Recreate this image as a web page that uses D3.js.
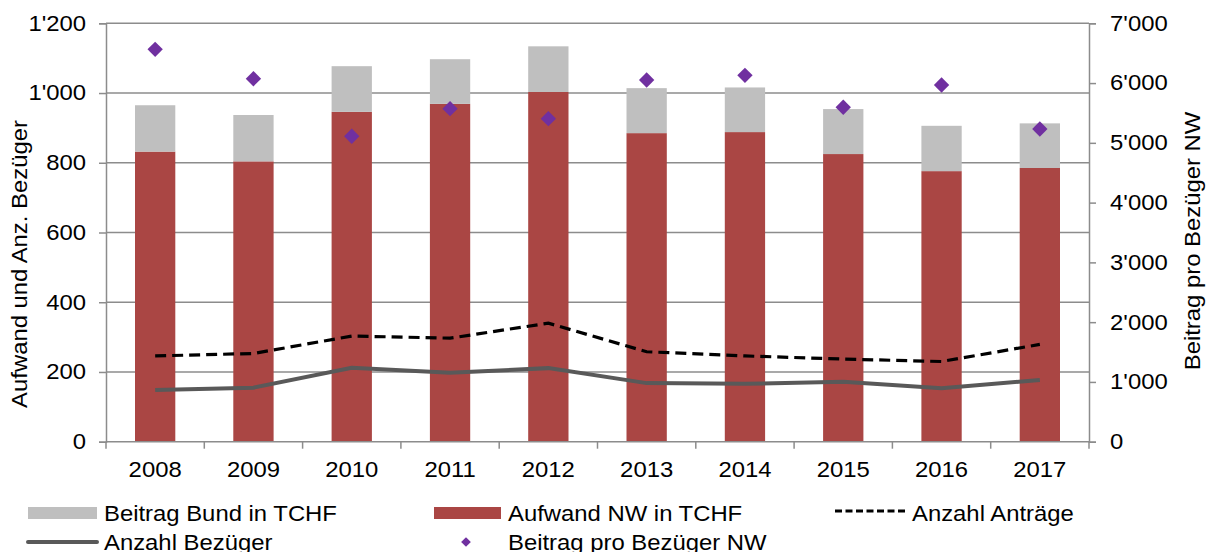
<!DOCTYPE html>
<html>
<head>
<meta charset="utf-8">
<script src="https://cdn.jsdelivr.net/npm/d3@7"></script>
<style>
  body { margin: 0; background: #fff; }
  text { font-family: "Liberation Sans", Arial, sans-serif; fill: #000; }
</style>
</head>
<body>
<svg id="chart" width="1209" height="552"></svg>
<script>
// data
var years = ["2008", "2009", "2010", "2011", "2012", "2013", "2014", "2015", "2016", "2017"];
var aufwandNW = [832, 804, 946, 969, 1003, 885, 888, 825, 776, 785];
var beitragBund = [133, 133, 131, 128, 131, 129, 128, 129, 130, 128];
var anzahlAntraege = [246, 253, 303, 297, 340, 258, 246, 237, 230, 279];
var anzahlBezueger = [148, 155, 212, 198, 211, 168, 166, 172, 153, 177];
var beitragProBezueger = [6565, 6073, 5110, 5572, 5404, 6052, 6130, 5595, 5968, 5232];
var leftTicks = [0, 200, 400, 600, 800, 1000, 1200];
var rightTicks = [0, 1000, 2000, 3000, 4000, 5000, 6000, 7000];

var svg = d3.select("#chart");
var pLeft = 106, pRight = 1089, pTop = 23.3, pBottom = 441.7;
var fontSize = 21.5;
var stretch = 1.11; // the source text is a bit wider than plain Arial
var gridColor = "#8c8c8c";

var x = d3.scaleBand().domain(years).range([pLeft, pRight]).paddingInner(0.59).paddingOuter(0.295);
var xBoundary = d3.scaleBand().domain(years).range([pLeft, pRight]);
var y = d3.scaleLinear().domain([0, 1200]).range([pBottom, pTop]);
var y2 = d3.scaleLinear().domain([0, 7000]).range([pBottom, pTop]);

var fmt = function (v) { return d3.format(",")(v).replace(/,/g, "'"); };

// text helper, stretched horizontally
function stext(parent, tx, ty, str, anchor, rot) {
    var t = "translate(" + tx + "," + ty + ")" + (rot ? " rotate(" + rot + ")" : "") + " scale(" + stretch + ",1)";
    return parent.append("text")
        .attr("transform", t)
        .attr("text-anchor", anchor || "start")
        .attr("font-size", fontSize)
        .text(str);
}

// gridlines
svg.append("g").selectAll("line").data(leftTicks.slice(1)).enter().append("line")
  .attr("x1", pLeft).attr("x2", pRight)
  .attr("y1", function (d) { return y(d); }).attr("y2", function (d) { return y(d); })
  .attr("stroke", gridColor).attr("stroke-width", 1.5);

// stacked bars
var bars = svg.append("g");
bars.selectAll("rect.nw").data(years).enter().append("rect")
  .attr("class", "nw")
  .attr("x", function (d) { return x(d); })
  .attr("width", x.bandwidth())
  .attr("y", function (d, i) { return y(aufwandNW[i]); })
  .attr("height", function (d, i) { return y(0) - y(aufwandNW[i]); })
  .attr("fill", "#aa4644");
bars.selectAll("rect.bund").data(years).enter().append("rect")
  .attr("class", "bund")
  .attr("x", function (d) { return x(d); })
  .attr("width", x.bandwidth())
  .attr("y", function (d, i) { return y(aufwandNW[i] + beitragBund[i]); })
  .attr("height", function (d, i) { return y(aufwandNW[i]) - y(aufwandNW[i] + beitragBund[i]); })
  .attr("fill", "#bfbfbf");

// left axis
var yAxis = d3.axisLeft(y).tickValues(leftTicks).tickFormat(fmt).tickSize(7).tickPadding(11);
var gy = svg.append("g").attr("transform", "translate(" + pLeft + ",0)").call(yAxis);
gy.select(".domain").attr("stroke", gridColor).attr("stroke-width", 1.5);
gy.selectAll(".tick line").attr("stroke", gridColor).attr("stroke-width", 1.5);
gy.selectAll(".tick text").attr("font-size", fontSize).attr("fill", "#000")
  .attr("transform", "scale(" + stretch + ",1)");

// right axis
var y2Axis = d3.axisRight(y2).tickValues(rightTicks).tickFormat(fmt).tickSize(7).tickPadding(12);
var gy2 = svg.append("g").attr("transform", "translate(" + pRight + ",0)").call(y2Axis);
gy2.select(".domain").attr("stroke", gridColor).attr("stroke-width", 1.5);
gy2.selectAll(".tick line").attr("stroke", gridColor).attr("stroke-width", 1.5);
gy2.selectAll(".tick text").attr("font-size", fontSize).attr("fill", "#000")
  .attr("transform", "scale(" + stretch + ",1)");

// x axis
svg.append("line").attr("x1", pLeft).attr("x2", pRight).attr("y1", pBottom).attr("y2", pBottom)
  .attr("stroke", gridColor).attr("stroke-width", 1.5);
var bounds = years.map(function (d) { return xBoundary(d); }).concat([pRight]);
svg.append("g").selectAll("line").data(bounds).enter().append("line")
  .attr("x1", function (d) { return d; }).attr("x2", function (d) { return d; })
  .attr("y1", pBottom).attr("y2", pBottom + 7)
  .attr("stroke", gridColor).attr("stroke-width", 1.5);
var gx = svg.append("g");
years.forEach(function (d) {
    stext(gx, x(d) + x.bandwidth() / 2, 477, d, "middle");
});

// lines
var cx = function (d, i) { return x(years[i]) + x.bandwidth() / 2; };
var line = d3.line().x(cx).y(function (d) { return y(d); });
svg.append("path").datum(anzahlBezueger).attr("d", line)
  .attr("fill", "none").attr("stroke", "#595959").attr("stroke-width", 4);
svg.append("path").datum(anzahlAntraege).attr("d", line)
  .attr("fill", "none").attr("stroke", "#000").attr("stroke-width", 3.2)
  .attr("stroke-dasharray", "11,6");

// diamonds
var diamond = d3.symbol().type(d3.symbolDiamond2).size(150);
svg.append("g").selectAll("path").data(beitragProBezueger).enter().append("path")
  .attr("d", diamond)
  .attr("transform", function (d, i) { return "translate(" + cx(d, i) + "," + y2(d) + ")"; })
  .attr("fill", "#7030a0");

// axis titles
stext(svg, 27, 264, "Aufwand und Anz. Bezüger", "middle", -90);
stext(svg, 1200, 241, "Beitrag pro Bezüger NW", "middle", -90);

// legend
var lg = svg.append("g");
lg.append("rect").attr("x", 28).attr("y", 507).attr("width", 69).attr("height", 12).attr("fill", "#bfbfbf");
stext(lg, 104, 521, "Beitrag Bund in TCHF");
lg.append("rect").attr("x", 434).attr("y", 507).attr("width", 67).attr("height", 12).attr("fill", "#aa4644");
stext(lg, 508, 521, "Aufwand NW in TCHF");
lg.append("line").attr("x1", 835).attr("x2", 908).attr("y1", 511).attr("y2", 511)
  .attr("stroke", "#000").attr("stroke-width", 3.2).attr("stroke-dasharray", "7,3.5");
stext(lg, 912, 521, "Anzahl Anträge");
lg.append("line").attr("x1", 28).attr("x2", 97).attr("y1", 542).attr("y2", 542)
  .attr("stroke", "#595959").attr("stroke-width", 4).attr("stroke-linecap", "round");
stext(lg, 104, 550, "Anzahl Bezüger");
lg.append("path").attr("d", d3.symbol().type(d3.symbolDiamond2).size(60))
  .attr("transform", "translate(466,542)").attr("fill", "#7030a0");
stext(lg, 508, 550, "Beitrag pro Bezüger NW");
</script>
</body>
</html>
